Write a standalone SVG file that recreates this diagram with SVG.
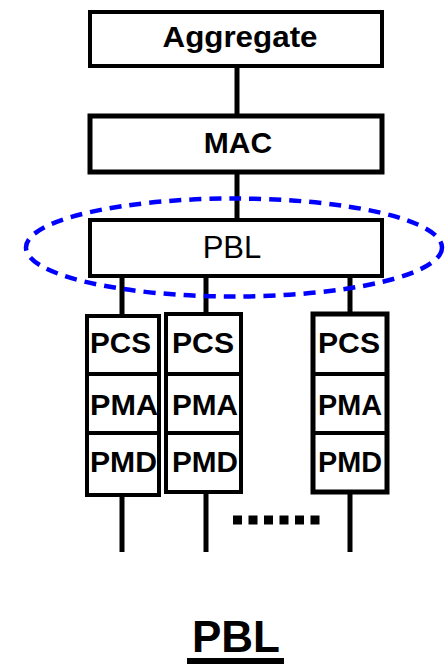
<svg xmlns="http://www.w3.org/2000/svg" width="447" height="664" viewBox="0 0 447 664">
<style>
.box{fill:#fff;stroke:#000;stroke-width:4}
.ln{stroke:#000;stroke-width:5;fill:none}
.t{font-family:"Liberation Sans",Arial,sans-serif;fill:#000}
.b{font-weight:bold;font-size:30px;text-anchor:middle}
.s{font-size:30px;font-weight:bold}
</style>
<rect width="447" height="664" fill="#fff"/>
<g id="connectors">
<line class="ln" x1="237" y1="66" x2="237" y2="116"/>
<line class="ln" x1="237" y1="172" x2="237" y2="220"/>
<line class="ln" x1="122" y1="276" x2="122" y2="316"/>
<line class="ln" x1="206" y1="276" x2="206" y2="314"/>
<line class="ln" x1="350" y1="276" x2="350" y2="314"/>
<line class="ln" x1="122" y1="495" x2="122" y2="552"/>
<line class="ln" x1="206" y1="492" x2="206" y2="552"/>
<line class="ln" x1="350" y1="492" x2="350" y2="552"/>
<line x1="233" y1="520" x2="326" y2="520" stroke="#000" stroke-width="9" stroke-dasharray="9 6.5"/>
</g>
<g id="aggregate">
<rect class="box" x="90" y="12" width="292" height="54"/>
<text class="t b" x="240" y="47" textLength="155" lengthAdjust="spacingAndGlyphs">Aggregate</text>
</g>
<g id="mac">
<rect class="box" x="90" y="116" width="292" height="56" style="stroke-width:5"/>
<text class="t b" x="238" y="153">MAC</text>
</g>
<g id="pbl">
<rect class="box" x="90" y="220" width="292" height="56"/>
<text class="t" x="232" y="258" font-size="31" text-anchor="middle">PBL</text>
</g>
<g id="ellipse">
<ellipse cx="234" cy="247.5" rx="208" ry="49" fill="none" stroke="#0000ff" stroke-width="4.5" stroke-dasharray="12 8"/>
</g>
<g id="stack1">
<rect class="box" x="87" y="316" width="72" height="179"/>
<line class="ln" x1="87" y1="374" x2="159" y2="374" style="stroke-width:4"/>
<line class="ln" x1="87" y1="433" x2="159" y2="433" style="stroke-width:4"/>
<text class="t s" x="90" y="353" textLength="61" lengthAdjust="spacingAndGlyphs">PCS</text>
<text class="t s" x="90" y="415" textLength="68" lengthAdjust="spacingAndGlyphs">PMA</text>
<text class="t s" x="90" y="472" textLength="67" lengthAdjust="spacingAndGlyphs">PMD</text>
</g>
<g id="stack2">
<rect class="box" x="166" y="314" width="75" height="178"/>
<line class="ln" x1="166" y1="374" x2="241" y2="374" style="stroke-width:4"/>
<line class="ln" x1="166" y1="433" x2="241" y2="433" style="stroke-width:4"/>
<text class="t s" x="172" y="353" textLength="62" lengthAdjust="spacingAndGlyphs">PCS</text>
<text class="t s" x="172" y="415" textLength="66" lengthAdjust="spacingAndGlyphs">PMA</text>
<text class="t s" x="172" y="472" textLength="66" lengthAdjust="spacingAndGlyphs">PMD</text>
</g>
<g id="stack3">
<rect class="box" x="313" y="314" width="74" height="178" style="stroke-width:5"/>
<line class="ln" x1="313" y1="374" x2="387" y2="374" style="stroke-width:4"/>
<line class="ln" x1="313" y1="433" x2="387" y2="433" style="stroke-width:4"/>
<text class="t s" x="318" y="353" textLength="62" lengthAdjust="spacingAndGlyphs">PCS</text>
<text class="t s" x="318" y="415" textLength="64" lengthAdjust="spacingAndGlyphs">PMA</text>
<text class="t s" x="318" y="472" textLength="64" lengthAdjust="spacingAndGlyphs">PMD</text>
</g>
<g id="title">
<text class="t" x="236" y="652" font-size="44" font-weight="bold" text-anchor="middle">PBL</text>
<rect x="187" y="658" width="97" height="8" fill="#000"/>
</g>
</svg>
